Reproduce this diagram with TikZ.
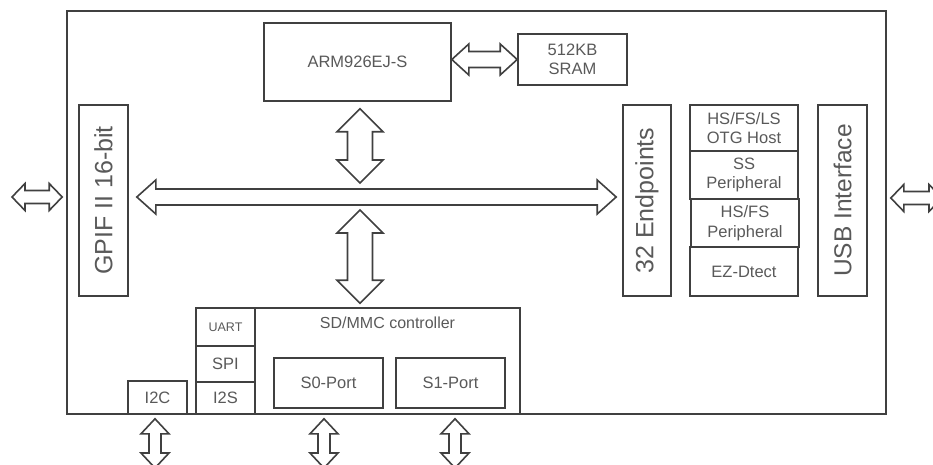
\documentclass[tikz,border=0pt]{standalone}
\usepackage{fontspec}
\setmainfont{Liberation Sans}
\usetikzlibrary{calc}
\definecolor{edge}{HTML}{404040}
\definecolor{ink}{HTML}{595959}
\tikzset{
  blk/.style={draw=edge, line width=1.6pt, inner sep=0pt, text=ink, align=center,
    font=\fontsize{16.5}{19.5}\selectfont},
  bigtxt/.style={font=\fontsize{25}{28}\selectfont},
  busline/.style={draw=edge, line width=1.6pt, line join=miter, fill=white},
}
% hollow double arrow, left to right: ends, shaft half width, head half width, head length
\newcommand{\hbus}[5]{%
  \path[busline] let \p1=(#1), \p2=(#2) in
    (\x1,\y1) -- (\x1+#5,\y1+#4) -- (\x1+#5,\y1+#3) -- (\x2-#5,\y1+#3) -- (\x2-#5,\y1+#4)
    -- (\x2,\y1) -- (\x2-#5,\y1-#4) -- (\x2-#5,\y1-#3) -- (\x1+#5,\y1-#3) -- (\x1+#5,\y1-#4) -- cycle;}
% same, top to bottom
\newcommand{\vbus}[5]{%
  \path[busline] let \p1=(#1), \p2=(#2) in
    (\x1,\y1) -- (\x1+#4,\y1-#5) -- (\x1+#3,\y1-#5) -- (\x1+#3,\y2+#5) -- (\x1+#4,\y2+#5)
    -- (\x1,\y2) -- (\x1-#4,\y2+#5) -- (\x1-#3,\y2+#5) -- (\x1-#3,\y1-#5) -- (\x1-#4,\y1-#5) -- cycle;}

\begin{document}
\begin{tikzpicture}[x=1pt, y=-1pt]
  \useasboundingbox (0,0) rectangle (933,465);
  \node[blk, minimum width=819pt, minimum height=403pt] (chip) at (476.5,212.5) {};
  % core
  \node[blk, minimum width=187pt, minimum height=78pt] (arm) at (357.5,62) {ARM926EJ-S};
  \node[blk, minimum width=109pt, minimum height=51pt] (sram) at (572.5,59.5) {512KB\\SRAM};
  \node[blk, bigtxt, minimum width=49pt, minimum height=191pt] (gpif) at (103.5,200.5) {\rotatebox{90}{GPIF II 16-bit}};
  % usb side
  \node[blk, bigtxt, minimum width=48pt, minimum height=191pt] (endp) at (647,200.5) {\rotatebox{90}{32 Endpoints}};
  \node[blk, minimum width=108pt, minimum height=46pt] (otg) at (744,128) {HS/FS/LS\\OTG Host};
  \node[blk, minimum width=108pt, minimum height=48pt] (ssp) at (744,175) {SS\\Peripheral};
  \node[blk, minimum width=108pt, minimum height=48pt] (hsp) at (745,223) {HS/FS\\Peripheral};
  \node[blk, minimum width=108pt, minimum height=49pt] (ezd) at (744,271.5) {EZ-Dtect};
  \node[blk, font=\fontsize{24.5}{28}\selectfont, minimum width=49pt, minimum height=191pt] (usbif) at (842.5,200.5) {\rotatebox{90}{USB Interface}};
  % low speed peripherals
  \node[blk, minimum width=265pt, minimum height=106pt,
    label={[anchor=center, yshift=-16pt, text=ink, font=\fontsize{16}{19}\selectfont]north:SD/MMC controller}] (sdmmc) at (387.5,361) {};
  \node[blk, font=\fontsize{12.5}{14}\selectfont, minimum width=59pt, minimum height=38pt] (uart) at (225.5,327) {UART};
  \node[blk, minimum width=59pt, minimum height=36pt] (spi) at (225.5,364) {SPI};
  \node[blk, minimum width=59pt, minimum height=32pt] (i2s) at (225.5,398) {I2S};
  \node[blk, minimum width=109pt, minimum height=50pt] (s0) at (328.5,383) {S0-Port};
  \node[blk, minimum width=109pt, minimum height=50pt] (s1) at (450.5,383) {S1-Port};
  \node[blk, minimum width=59pt, minimum height=33pt] (i2c) at (157.5,397.5) {I2C};

  \coordinate (busmid) at (360,197);
  \coordinate (gpifpin) at (12,197);
  \coordinate (usbpin) at (942,198);
  \coordinate (i2cpin) at (155,468);
  \coordinate (s0pin) at (324,468);
  \coordinate (s1pin) at (455,468);

  % buses
  \hbus{$(busmid -| gpif.east)+(8,0)$}{$(busmid -| endp.west)+(-6,0)$}{8pt}{17pt}{19pt}
  \hbus{arm.east |- sram.west}{sram.west}{8pt}{15.5pt}{17pt}
  \vbus{$(arm.south -| busmid)+(0,7)$}{$(busmid)+(0,-14)$}{12.5pt}{23pt}{23pt}
  \vbus{$(busmid)+(0,13)$}{$(sdmmc.north -| busmid)+(0,-4)$}{12.5pt}{23pt}{23pt}
  % pins
  \hbus{gpifpin}{$(gpifpin -| chip.west)+(-4,0)$}{6.5pt}{13.5pt}{13pt}
  \hbus{$(usbpin -| chip.east)+(4,0)$}{usbpin}{6.5pt}{13.5pt}{13pt}
  \vbus{$(i2cpin |- chip.south)+(0,4)$}{i2cpin}{6pt}{14pt}{15pt}
  \vbus{$(s0pin |- chip.south)+(0,4)$}{s0pin}{6pt}{14pt}{15pt}
  \vbus{$(s1pin |- chip.south)+(0,4)$}{s1pin}{6pt}{14pt}{15pt}
\end{tikzpicture}
\end{document}
